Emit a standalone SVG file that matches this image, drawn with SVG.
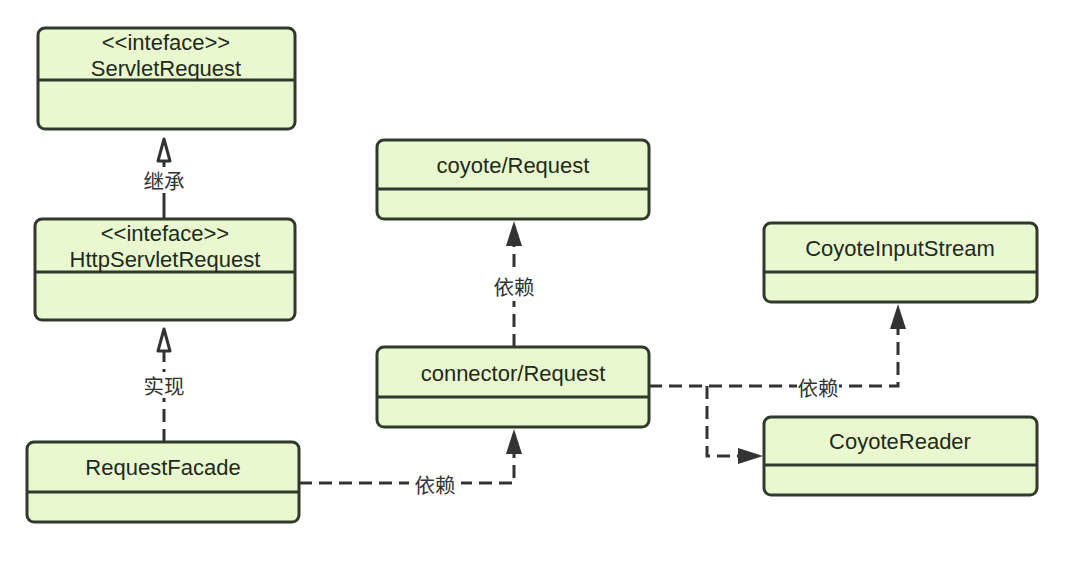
<svg xmlns="http://www.w3.org/2000/svg" width="1080" height="587" viewBox="0 0 1080 587">
<style>
.box{fill:#e9f8cf;stroke:#2f3a2d;stroke-width:3}
.div{stroke:#2f3a2d;stroke-width:3}
.t{font-family:"Liberation Sans",Arial,sans-serif;font-size:22px;fill:#1f2a1d;text-anchor:middle}
.lbl{font-family:"Noto Sans CJK SC",sans-serif;font-size:20.5px;fill:#333;text-anchor:middle;dominant-baseline:central}
.ln{fill:none;stroke:#333;stroke-width:3}
.dash{stroke-dasharray:13 7}
.lb{fill:#fff}
</style>
<g id="connectors">
<line class="ln" x1="164" y1="219" x2="164" y2="160"/>
<path d="M164 139 L170 161 L158 161 Z" fill="#fff" stroke="#333" stroke-width="3" stroke-linejoin="round"/>
<rect class="lb" x="138" y="167" width="52" height="26"/>
<text class="lbl" x="164" y="180">继承</text>
<line class="ln dash" x1="164" y1="442" x2="164" y2="352"/>
<path d="M164 329 L170 351 L158 351 Z" fill="#fff" stroke="#333" stroke-width="3" stroke-linejoin="round"/>
<rect class="lb" x="138" y="372" width="52" height="26"/>
<text class="lbl" x="164" y="385">实现</text>
<line class="ln dash" x1="514" y1="347" x2="514" y2="245"/>
<path d="M514 221 L522 246 L506 246 Z" fill="#333"/>
<rect class="lb" x="488" y="273" width="52" height="28"/>
<text class="lbl" x="514" y="286">依赖</text>
<path class="ln dash" d="M299 483 H514 V452"/>
<path d="M514 429 L522 454 L506 454 Z" fill="#333"/>
<rect class="lb" x="409" y="470" width="52" height="28"/>
<text class="lbl" x="435" y="484">依赖</text>
<path class="ln dash" d="M649 386 H898 V328"/>
<path d="M898 304 L906 329 L890 329 Z" fill="#333"/>
<rect class="lb" x="797" y="374" width="42" height="26"/>
<text class="lbl" x="818" y="387">依赖</text>
<path class="ln dash" d="M707 386 V456 H739"/>
<path d="M763 456 L738 448 L738 464 Z" fill="#333"/>
</g>
<g id="ServletRequest">
<rect class="box" x="38" y="28" width="257" height="101" rx="7"/>
<line class="div" x1="38" y1="80" x2="295" y2="80"/>
<text class="t" x="166" y="50">&lt;&lt;inteface&gt;&gt;</text>
<text class="t" x="166" y="76">ServletRequest</text>
</g>
<g id="HttpServletRequest">
<rect class="box" x="35" y="219" width="260" height="101" rx="7"/>
<line class="div" x1="35" y1="272" x2="295" y2="272"/>
<text class="t" x="165" y="241">&lt;&lt;inteface&gt;&gt;</text>
<text class="t" x="165" y="267">HttpServletRequest</text>
</g>
<g id="RequestFacade">
<rect class="box" x="27" y="442" width="272" height="80" rx="7"/>
<line class="div" x1="27" y1="492" x2="299" y2="492"/>
<text class="t" x="163" y="475">RequestFacade</text>
</g>
<g id="coyoteRequest">
<rect class="box" x="377" y="140" width="272" height="79" rx="7"/>
<line class="div" x1="377" y1="189" x2="649" y2="189"/>
<text class="t" x="513" y="173">coyote/Request</text>
</g>
<g id="connectorRequest">
<rect class="box" x="377" y="347" width="272" height="80" rx="7"/>
<line class="div" x1="377" y1="397" x2="649" y2="397"/>
<text class="t" x="513" y="381">connector/Request</text>
</g>
<g id="CoyoteInputStream">
<rect class="box" x="764" y="223" width="273" height="79" rx="7"/>
<line class="div" x1="764" y1="272" x2="1037" y2="272"/>
<text class="t" x="900" y="256">CoyoteInputStream</text>
</g>
<g id="CoyoteReader">
<rect class="box" x="764" y="417" width="273" height="78" rx="7"/>
<line class="div" x1="764" y1="465" x2="1037" y2="465"/>
<text class="t" x="900" y="449">CoyoteReader</text>
</g>
</svg>
